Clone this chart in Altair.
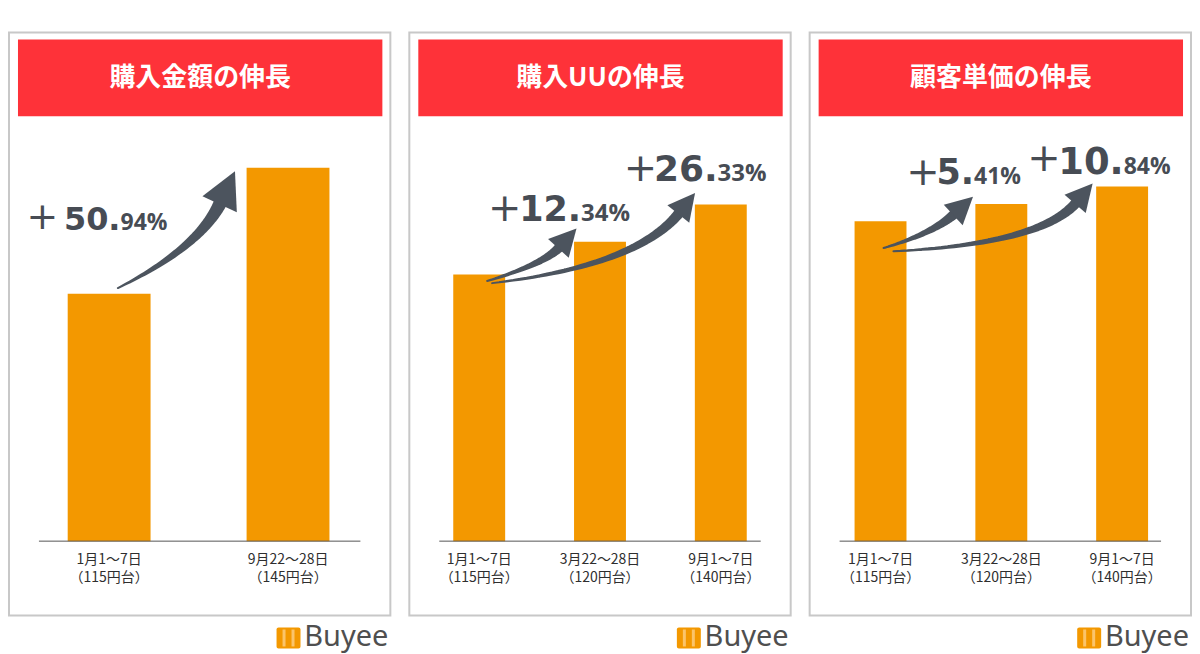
import math
import altair as alt
import pandas as pd

# ---------------- data ----------------
panel_titles = ["購入金額の伸長", "購入UUの伸長", "顧客単価の伸長"]

periods_amount = ["1月1〜7日", "9月22〜28日"]
rates_amount = ["（115円台）", "（145円台）"]
periods_three = ["1月1〜7日", "3月22〜28日", "9月1〜7日"]
rates_three = ["（115円台）", "（120円台）", "（140円台）"]

values_amount = [100, 150.94]          # indexed, first week = 100
values_uu = [100, 112.34, 126.33]
values_price = [100, 105.41, 110.84]

growth_amount = ["50.94"]
growth_uu = ["12.34", "26.33"]
growth_price = ["5.41", "10.84"]

brand = "Buyee"

# ---------------- style / layout ----------------
W, H = 382, 584
BASE = 509.5                  # local pixel y of the bar baseline
ORANGE = "#f39800"
RED = "#fe3239"
ARROW = "#4c545e"
TXT = "#474c54"
JP = "Noto Sans CJK JP"
NUM = "DejaVu Sans"
SMALL = "Open Sans"
HEAD_PATH = "M0,-1.8L1,0.12L-1,0.12Z"

panel_specs = [
    dict(title=panel_titles[0], periods=periods_amount, rates=rates_amount,
         values=values_amount, growth=growth_amount,
         x0=100.3, step=179.2, k=2.478, bar=83,
         arrows=[dict(p0=(0.049, 102.3), c=(0.506, 118.8), p2=(0.623, 137.0),
                      w0=2.0, w1=13.5, hw=19)],
         labels=[dict(anchor=1, pdx=-246, pdy=50.5, bdx=-224.5, bdy=62.5,
                      big=32, small=23, plus=38)]),
    dict(title=panel_titles[1], periods=periods_three, rates=rates_three,
         values=values_uu, growth=growth_uu,
         x0=70, step=121, k=2.67, bar=52,
         arrows=[dict(p0=(0.066, 97.6), c=(0.538, 104.0), p2=(0.665, 110.3),
                      w0=2.0, w1=10.0, hw=14),
                 dict(p0=(0.107, 96.8), c=(1.308, 103.4), p2=(1.657, 123.2),
                      w0=2.0, w1=10.5, hw=14)],
         labels=[dict(anchor=1, pdx=-95.5, pdy=-32.5, bdx=-81, bdy=-20.5,
                      big=35, small=24, plus=40),
                 dict(anchor=2, pdx=-80.5, pdy=-35, bdx=-67, bdy=-23,
                      big=36, small=24, plus=40)]),
    dict(title=panel_titles[2], periods=periods_three, rates=rates_three,
         values=values_price, growth=growth_price,
         x0=71, step=121, k=3.205, bar=52,
         arrows=[dict(p0=(0.025, 91.6), c=(0.436, 96.2), p2=(0.612, 102.3),
                      w0=2.0, w1=10.0, hw=14),
                 dict(p0=(0.107, 90.6), c=(1.326, 92.9), p2=(1.620, 105.8),
                      w0=2.0, w1=10.5, hw=14)],
         labels=[dict(anchor=1, pdx=-78.5, pdy=-30.7, bdx=-65, bdy=-19.7,
                      big=35, small=23, plus=40),
                 dict(anchor=2, pdx=-78.3, pdy=-27.3, bdx=-64, bdy=-12.6,
                      big=37, small=23, plus=40)]),
]


def make_panel(p):
    n = len(p["values"])
    xs = alt.Scale(domain=[-p["x0"] / p["step"], (W - p["x0"]) / p["step"]],
                   nice=False, zero=False, padding=0)
    ys = alt.Scale(domain=[-(H - BASE) / p["k"], BASE / p["k"]],
                   nice=False, zero=False, padding=0)
    one = pd.DataFrame({"a": [0]})
    layers = []

    # header band + title
    layers.append(alt.Chart(one).mark_rect(color=RED).encode(
        x=alt.value(9), x2=alt.value(374), y=alt.value(7), y2=alt.value(84)))
    layers.append(alt.Chart(one).mark_text(
        text=p["title"], font=JP, fontWeight="bold", fontSize=26, color="white",
        align="center", baseline="middle").encode(x=alt.value(191.5), y=alt.value(45.5)))

    # bars
    bars_df = pd.DataFrame({"i": list(range(n)), "v": p["values"],
                            "cat": [a + "\n" + b for a, b in zip(p["periods"], p["rates"])]})
    layers.append(alt.Chart(bars_df).mark_bar(size=p["bar"], color=ORANGE).encode(
        x=alt.X("i:Q", scale=xs, axis=None),
        y=alt.Y("v:Q", scale=ys, axis=None)))

    # category labels (two lines) under each bar
    layers.append(alt.Chart(bars_df).mark_text(
        font=JP, fontSize=14, color="#2e2e2e", align="center", baseline="top",
        lineBreak="\n", lineHeight=18).encode(
        x=alt.X("i:Q", scale=xs, axis=None), y=alt.value(BASE + 12), text="cat:N"))

    # baseline
    layers.append(alt.Chart(pd.DataFrame({"v": [0]})).mark_rule(color="#555555", strokeWidth=1).encode(
        x=alt.value(30), x2=alt.value(352), y=alt.Y("v:Q", scale=ys, axis=None)))

    # arrows (curved tapering trail + head)
    rows, heads = [], []
    for a_id, a in enumerate(p["arrows"]):
        (x0, y0), (cx, cy), (x2, y2) = a["p0"], a["c"], a["p2"]
        N = 40
        for j in range(N + 1):
            t = j / N
            bx = (1 - t) ** 2 * x0 + 2 * (1 - t) * t * cx + t ** 2 * x2
            by = (1 - t) ** 2 * y0 + 2 * (1 - t) * t * cy + t ** 2 * y2
            rows.append({"arrow": a_id, "t": t, "x": bx, "y": by,
                         "w": a["w0"] + (a["w1"] - a["w0"]) * t})
        ux = (x2 - cx) * p["step"]
        uy = -(y2 - cy) * p["k"]
        ang = math.degrees(math.atan2(ux, -uy)) % 360
        heads.append({"x": x2, "y": y2, "ang": ang, "s": 4 * a["hw"] ** 2})
    layers.append(alt.Chart(pd.DataFrame(rows)).mark_trail(color=ARROW).encode(
        x=alt.X("x:Q", scale=xs, axis=None),
        y=alt.Y("y:Q", scale=ys, axis=None),
        size=alt.Size("w:Q", scale=None, legend=None),
        detail="arrow:N", order="t:Q"))
    layers.append(alt.Chart(pd.DataFrame(heads)).mark_point(
        shape=HEAD_PATH, filled=True, color=ARROW, opacity=1, strokeWidth=0).encode(
        x=alt.X("x:Q", scale=xs, axis=None),
        y=alt.Y("y:Q", scale=ys, axis=None),
        angle=alt.Angle("ang:Q", scale=None),
        size=alt.Size("s:Q", scale=None, legend=None)))

    # growth labels
    for g, lab in zip(p["growth"], p["labels"]):
        whole, frac = g.split(".")
        big_txt, small_txt = whole + ".", frac + "%"
        big_w = (0.696 * len(whole) + 0.38) * lab["big"]
        adf = pd.DataFrame({"i": [lab["anchor"]], "v": [p["values"][lab["anchor"]]]})
        enc = dict(x=alt.X("i:Q", scale=xs, axis=None), y=alt.Y("v:Q", scale=ys, axis=None))
        layers.append(alt.Chart(adf).mark_text(
            text="+", font=NUM, fontSize=lab["plus"], color=TXT, align="center",
            baseline="middle", dx=lab["pdx"], dy=lab["pdy"]).encode(**enc))
        layers.append(alt.Chart(adf).mark_text(
            text=big_txt, font=NUM, fontWeight="bold", fontSize=lab["big"], color=TXT,
            align="left", baseline="alphabetic", dx=lab["bdx"], dy=lab["bdy"]).encode(**enc))
        layers.append(alt.Chart(adf).mark_text(
            text=small_txt, font=SMALL, fontWeight="bold", fontSize=lab["small"], color=TXT,
            align="left", baseline="alphabetic", dx=lab["bdx"] + big_w,
            dy=lab["bdy"]).encode(**enc))

    # brand logo under the panel
    layers.append(alt.Chart(one).mark_rect(color=ORANGE, cornerRadius=2).encode(
        x=alt.value(268), x2=alt.value(292), y=alt.value(596), y2=alt.value(617)))
    for sx in (274, 283):
        layers.append(alt.Chart(one).mark_rect(color="#fbc46a").encode(
            x=alt.value(sx), x2=alt.value(sx + 3), y=alt.value(598), y2=alt.value(615)))
    layers.append(alt.Chart(one).mark_text(
        text=brand, font="Noto Sans", fontSize=29, color="#4f4f4f", align="right",
        baseline="alphabetic").encode(x=alt.value(380), y=alt.value(615)))

    return alt.layer(*layers).properties(width=W, height=H)


chart = alt.hconcat(*[make_panel(p) for p in panel_specs], spacing=17).properties(
    padding={"left": 0, "top": 23, "right": 0, "bottom": 0},
    background="white",
).configure_view(stroke="#c8c8c8", strokeWidth=2)

chart.save("out.html", embed_options={"renderer": "svg", "actions": False})
